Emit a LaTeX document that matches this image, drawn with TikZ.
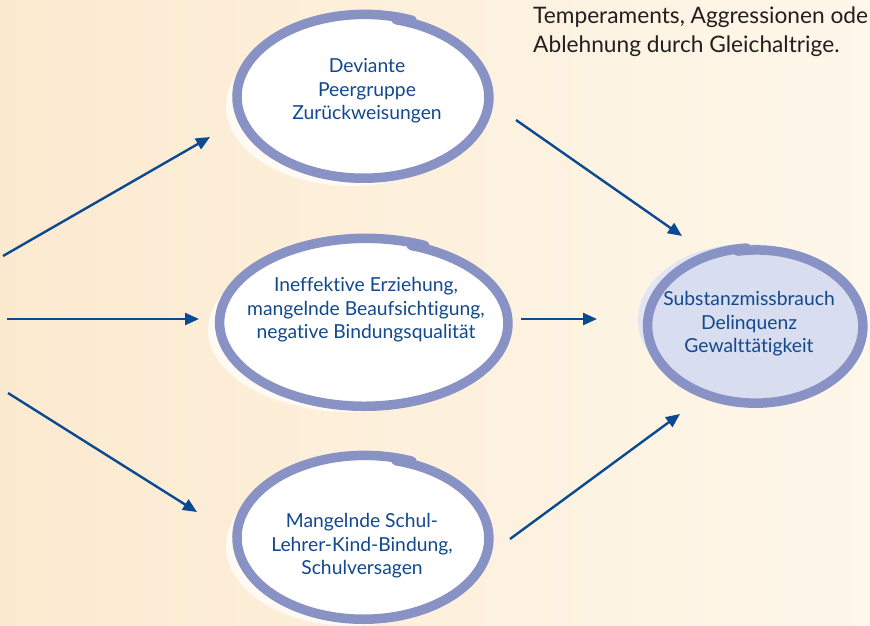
\documentclass[tikz,border=0pt]{standalone}
\usepackage{fontspec}
\setmainfont[Ligatures={NoCommon}]{Lato}
\usetikzlibrary{arrows.meta}
\definecolor{bgL}{RGB}{252,234,208}
\definecolor{bgR}{RGB}{254,247,234}
\definecolor{ringc}{RGB}{136,146,196}
\definecolor{txtc}{RGB}{18,72,142}
\definecolor{arrc}{RGB}{10,74,146}
\definecolor{subfill}{RGB}{216,222,240}
\definecolor{subshadow}{RGB}{226,230,243}
\definecolor{shadowc}{RGB}{255,251,244}
\definecolor{blacktxt}{RGB}{35,31,32}
\begin{document}
\begin{tikzpicture}[x=1pt,y=-1pt,
  ringline/.style={draw=ringc, line width=9.5pt, line cap=round, line join=round},
  lbl/.style={text=txtc, align=center, font=\fontsize{19.3}{23.5}\selectfont, inner sep=0pt},
  arr/.style={draw=arrc, line width=2.4pt, -{Triangle[length=14pt,width=12pt]}}]
\useasboundingbox (0,0) rectangle (870,626);
\clip (0,0) rectangle (870,626);
\shade[left color=bgL, right color=bgR] (0,0) rectangle (870,626);

% shadows
\fill[shadowc] (352,106) ellipse [x radius=126, y radius=80];
\fill[shadowc] (352,330) ellipse [x radius=144, y radius=82];
\fill[shadowc] (352,546) ellipse [x radius=126, y radius=80];
\fill[subshadow] (746,320) ellipse [x radius=108, y radius=76];

% rings
\filldraw[ringline, fill=white] plot[domain=-75:292, samples=100, smooth]
  ({364+124*(1+0.035*(\x+75)/367)*cos(\x)}, {97+80*(1+0.035*(\x+75)/367)*sin(\x)});
\filldraw[ringline, fill=white] plot[domain=-71:294, samples=100, smooth]
  ({365+142*(1+0.035*(\x+71)/365)*cos(\x)}, {323+82*(1+0.035*(\x+71)/365)*sin(\x)});
\filldraw[ringline, fill=white] plot[domain=-75:292, samples=100, smooth]
  ({364+124*(1+0.035*(\x+75)/367)*cos(\x)}, {538+80*(1+0.035*(\x+75)/367)*sin(\x)});
\filldraw[ringline, fill=subfill] plot[domain=-100:265, samples=100, smooth]
  ({756+106*(1+0.03*(\x+100)/365)*cos(\x)}, {326+76*(1+0.03*(\x+100)/365)*sin(\x)});

% labels
\node[lbl] (dev) at (367,91) {Deviante\\Peergruppe\\Zurückweisungen};
\node[lbl] (erz) at (366,310) {Ineffektive Erziehung,\\mangelnde Beaufsichtigung,\\negative Bindungsqualität};
\node[lbl] (schul) at (362,546) {Mangelnde Schul-\\Lehrer-Kind-Bindung,\\Schulversagen};
\node[lbl] (subst) at (749,324) {Substanzmissbrauch\\Delinquenz\\Gewalttätigkeit};

\node[anchor=north west, inner sep=0pt, text=blacktxt, align=left,
  font=\fontsize{22.7}{29}\selectfont] (note) at (533,7)
  {Temperaments, Aggressionen ode\\Ablehnung durch Gleichaltrige.};

% arrows
\coordinate (a1s) at (3,256);   \coordinate (a1e) at (210,137);
\coordinate (a2s) at (7,319);   \coordinate (a2e) at (199,319);
\coordinate (a3s) at (8,393);   \coordinate (a3e) at (197,512);
\coordinate (b1s) at (516,120); \coordinate (b1e) at (682,236);
\coordinate (b2s) at (521,319); \coordinate (b2e) at (597,319);
\coordinate (b3s) at (510,539); \coordinate (b3e) at (680,414);
\draw[arr] (a1s) -- (a1e);
\draw[arr] (a2s) -- (a2e);
\draw[arr] (a3s) -- (a3e);
\draw[arr] (b1s) -- (b1e);
\draw[arr] (b2s) -- (b2e);
\draw[arr] (b3s) -- (b3e);
\end{tikzpicture}
\end{document}
